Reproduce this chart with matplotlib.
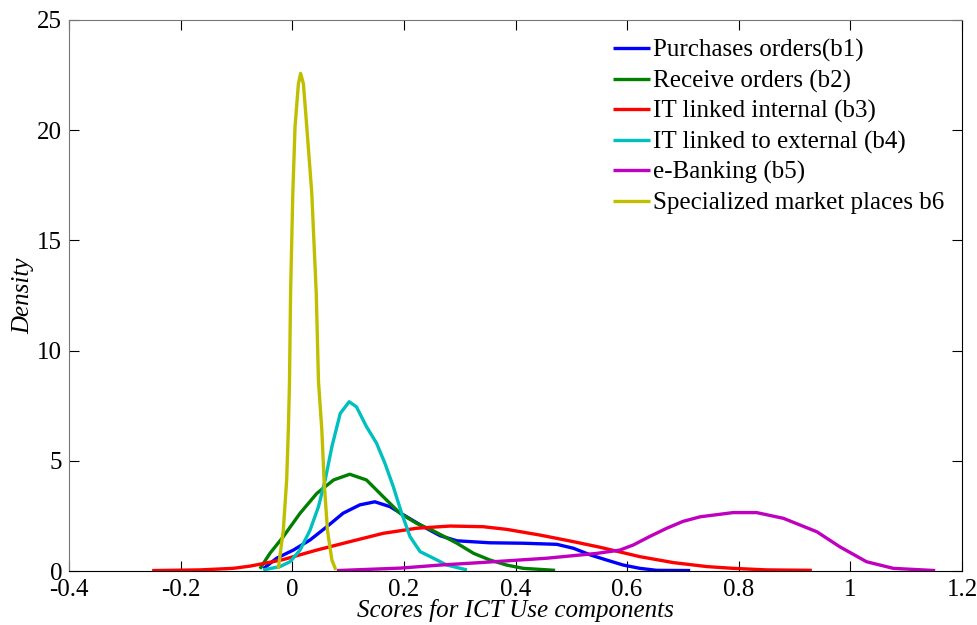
import matplotlib.pyplot as plt

plt.rcParams['font.family'] = ['Liberation Serif', 'DejaVu Serif']

# density curves (x score, y density)
b1_x = [-0.052, -0.028, 0.002, 0.032, 0.062, 0.091, 0.121, 0.148, 0.175, 0.205, 0.235, 0.265,
        0.295, 0.354, 0.414, 0.474, 0.504, 0.534, 0.563, 0.593, 0.623, 0.653, 0.713]
b1_y = [0.1, 0.58, 0.95, 1.41, 2.01, 2.62, 3.0, 3.14, 2.92, 2.46, 2.01, 1.6,
        1.37, 1.28, 1.26, 1.21, 1.03, 0.73, 0.5, 0.27, 0.12, 0.03, 0.02]

b2_x = [-0.058, -0.04, -0.016, 0.014, 0.044, 0.074, 0.103, 0.133, 0.163, 0.193, 0.223, 0.253,
        0.277, 0.295, 0.325, 0.354, 0.384, 0.414, 0.471]
b2_y = [0.1, 0.8, 1.56, 2.62, 3.52, 4.13, 4.39, 4.13, 3.37, 2.62, 2.16, 1.82,
        1.5, 1.26, 0.8, 0.5, 0.27, 0.12, 0.03]

b3_x = [-0.251, -0.165, -0.106, -0.076, -0.045, -0.016, 0.044, 0.103, 0.163, 0.223, 0.283, 0.342,
        0.384, 0.444, 0.504, 0.551, 0.623, 0.683, 0.743, 0.79, 0.85, 0.931]
b3_y = [0.02, 0.05, 0.12, 0.22, 0.37, 0.52, 0.95, 1.33, 1.71, 1.94, 2.04, 2.01,
        1.89, 1.63, 1.33, 1.08, 0.65, 0.38, 0.2, 0.12, 0.05, 0.03]

b4_x = [-0.052, -0.022, -0.004, 0.014, 0.032, 0.047, 0.059, 0.071, 0.086, 0.102, 0.115, 0.133,
        0.151, 0.166, 0.181, 0.196, 0.211, 0.229, 0.253, 0.277, 0.313]
b4_y = [0.05, 0.2, 0.42, 0.95, 1.86, 2.92, 4.13, 5.64, 7.15, 7.68, 7.45, 6.55,
        5.8, 4.89, 3.83, 2.62, 1.56, 0.88, 0.58, 0.27, 0.05]

b5_x = [0.08, 0.193, 0.265, 0.336, 0.456, 0.546, 0.587, 0.611, 0.64, 0.671, 0.70, 0.731,
        0.79, 0.832, 0.88, 0.94, 0.981, 1.029, 1.077, 1.152]
b5_y = [0.02, 0.13, 0.27, 0.38, 0.58, 0.8, 0.95, 1.18, 1.56, 1.94, 2.25, 2.46,
        2.65, 2.65, 2.39, 1.78, 1.1, 0.42, 0.12, 0.02]

b6_x = [-0.025, -0.016, -0.01, -0.007, -0.005, -0.003, 0.001, 0.005, 0.011, 0.015, 0.02, 0.026,
        0.035, 0.043, 0.047, 0.053, 0.057, 0.063, 0.071, 0.078]
b6_y = [0.1, 1.86, 4.13, 6.4, 8.5, 12.6, 17.14, 20.16, 22.1, 22.58, 22.1, 20.16,
        17.14, 12.6, 8.6, 6.4, 4.13, 1.86, 0.5, 0.05]

labels = ['Purchases orders(b1)', 'Receive orders (b2)', 'IT linked internal (b3)',
          'IT linked to external (b4)', 'e-Banking (b5)', 'Specialized market places b6']
colors = ['#0000ff', '#008000', '#ff0000', '#00bfbf', '#bf00bf', '#bfbf00']


def main():
  fig = plt.figure(figsize=(9.78, 6.25), dpi=100)
  ax = fig.add_axes([69 / 978, 1 - 571 / 625, (962 - 69) / 978, (571 - 20) / 625])

  series = [(b1_x, b1_y), (b2_x, b2_y), (b3_x, b3_y), (b4_x, b4_y), (b5_x, b5_y), (b6_x, b6_y)]
  for (xs, ys), lab, col in zip(series, labels, colors):
    ax.plot(xs, ys, color=col, lw=2.4, label=lab, solid_joinstyle='round', solid_capstyle='butt')

  ax.set_xlim(-0.4, 1.2)
  ax.set_ylim(0, 25)
  ax.set_xticks([-0.4, -0.2, 0, 0.2, 0.4, 0.6, 0.8, 1, 1.2])
  ax.set_xticklabels(['-0.4', '-0.2', '0', '0.2', '0.4', '0.6', '0.8', '1', '1.2'])
  ax.set_yticks([0, 5, 10, 15, 20, 25])
  ax.tick_params(direction='in', length=7, width=0.8, top=True, right=True, labelsize=18)
  ax.tick_params(axis='x', pad=6)
  ax.tick_params(axis='y', pad=5)
  for side in ['left', 'top']:
    ax.spines[side].set_color('#777777')

  ax.set_xlabel('Scores for ICT Use components', fontsize=18, style='italic')
  ax.xaxis.set_label_coords(0.5, (571 - 617) / 551)
  ax.xaxis.label.set_va('baseline')
  ax.set_ylabel('Density', fontsize=18, style='italic', labelpad=2)

  ax.legend(loc='upper left', bbox_to_anchor=(603 / 978, 1 - 29 / 625), bbox_transform=fig.transFigure,
            frameon=False, fontsize=18, handlelength=1.5, handletextpad=0.1, labelspacing=0.3,
            borderaxespad=0)

  fig.savefig('out.png', dpi=100)


if __name__ == "__main__":
  main()
